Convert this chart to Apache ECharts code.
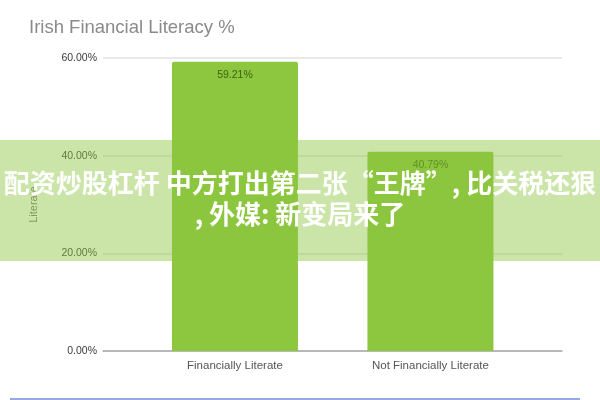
<!DOCTYPE html>
<html>
<head>
    <meta charset="utf-8">
    <script src="https://cdn.jsdelivr.net/npm/echarts@6/dist/echarts.min.js"></script>
    <style>
        html, body { margin: 0; padding: 0; background: #fff; }
        #main { width: 600px; height: 400px; }
    </style>
</head>
<body>
    <div id="main"></div>
    <script type="text/javascript">
        // 数据
        var categories = ['Financially Literate', 'Not Financially Literate'];
        var values = [59.21, 40.79];
        var yTicks = [0, 20, 40, 60];
        var titleText = 'Irish Financial Literacy %';
        var bannerLines = ['配资炒股杠杆 中方打出第二张“王牌”, 比关税还狠', ', 外媒: 新变局来了'];

        var myChart = echarts.init(document.getElementById('main'), null, { renderer: 'canvas' });

        var barData = values.map(function (v, i) { return [i, v]; });

        var option = {
            animation: false,
            title: {
                text: titleText,
                left: 24,
                top: 13,
                textStyle: {
                    fontFamily: 'Liberation Sans',
                    fontSize: 18.5,
                    fontWeight: 'normal',
                    color: '#8a8a8a'
                }
            },
            grid: { left: 103, right: 38, top: 58, bottom: 49 },
            xAxis: {
                type: 'value',
                min: -0.675,
                max: 1.673,
                axisLine: { show: true, onZero: false, lineStyle: { color: '#a8a8a8', width: 1.5 } },
                axisTick: { show: false },
                splitLine: { show: false },
                axisLabel: {
                    customValues: [0, 1],
                    formatter: function (v) { return categories[Math.round(v)]; },
                    fontFamily: 'Liberation Sans',
                    fontSize: 11.5,
                    color: '#555',
                    margin: 9
                }
            },
            yAxis: {
                type: 'value',
                min: yTicks[0],
                max: yTicks[yTicks.length - 1],
                interval: 20,
                name: 'Literate',
                nameLocation: 'middle',
                nameGap: 64,
                nameTextStyle: { fontFamily: 'Liberation Sans', fontSize: 11, color: '#777' },
                axisLine: { show: false },
                axisTick: { show: false },
                axisLabel: {
                    formatter: function (v) { return v.toFixed(2) + '%'; },
                    fontFamily: 'Liberation Sans',
                    fontSize: 10.5,
                    color: '#3a3a3a',
                    margin: 6
                },
                splitLine: { lineStyle: { color: '#e2e2e2', width: 1.5 } }
            },
            series: [{
                type: 'bar',
                data: barData,
                barWidth: 126,
                itemStyle: { color: '#8dc63f', borderRadius: [2, 2, 0, 0] },
                label: {
                    show: true,
                    position: 'insideTop',
                    distance: 8,
                    formatter: function (p) { return p.value[1].toFixed(2) + '%'; },
                    fontFamily: 'Liberation Sans',
                    fontSize: 10.5,
                    color: '#3c6414'
                }
            }],
            graphic: [
                {
                    type: 'rect',
                    z: 100,
                    shape: { x: 0, y: 140, width: 600, height: 121 },
                    style: { fill: 'rgba(140,198,63,0.45)' }
                },
                {
                    type: 'text',
                    z: 101,
                    x: 300,
                    y: 183,
                    style: {
                        text: bannerLines[0],
                        fill: '#fff',
                        font: 'bold 26px "Noto Sans CJK SC"',
                        align: 'center',
                        verticalAlign: 'middle'
                    }
                },
                {
                    type: 'text',
                    z: 101,
                    x: 300,
                    y: 214,
                    style: {
                        text: bannerLines[1],
                        fill: '#fff',
                        font: 'bold 26px "Noto Sans CJK SC"',
                        align: 'center',
                        verticalAlign: 'middle'
                    }
                },
                {
                    type: 'rect',
                    z: 100,
                    shape: { x: 10, y: 398, width: 570, height: 2 },
                    style: { fill: '#94a9e3' }
                }
            ]
        };

        myChart.setOption(option);
    </script>
</body>
</html>
